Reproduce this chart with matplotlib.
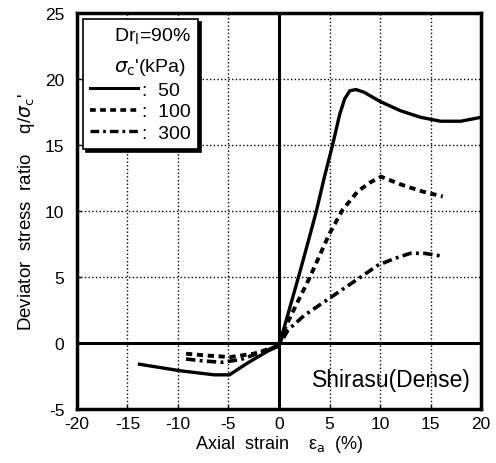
import numpy as np
import matplotlib
matplotlib.use("Agg")
import matplotlib.pyplot as plt
from matplotlib.lines import Line2D

plt.rcParams['font.family'] = ['Liberation Sans', 'DejaVu Sans']
plt.rcParams['mathtext.fontset'] = 'dejavusans'
plt.rcParams['axes.unicode_minus'] = False

# confining pressures (kPa) and the curves
pressures = [50, 100, 300]

# 50 kPa (solid)
strain_50 = [-13.8, -9.7, -6.4, -4.9, -3.1, -1.1, 0.0, 1.0, 2.0, 3.0, 3.7, 4.5, 5.3,
             6.0, 6.5, 7.0, 7.6, 8.4, 10.0, 12.0, 14.0, 16.0, 18.0, 20.0]
ratio_50 = [-1.6, -2.1, -2.4, -2.4, -1.5, -0.6, -0.2, 2.5, 5.2, 8.0, 10.0, 12.6, 15.0,
            17.3, 18.5, 19.1, 19.2, 19.0, 18.3, 17.6, 17.1, 16.8, 16.8, 17.1]

# 100 kPa (dashed)
strain_100 = [-9.2, -7.0, -4.8, -2.5, 0.0, 0.5, 1.7, 3.0, 4.0, 5.0, 6.3, 7.8, 9.1,
              10.1, 12.1, 14.1, 16.2]
ratio_100 = [-0.8, -0.95, -1.05, -0.8, -0.2, 1.0, 2.9, 4.9, 6.6, 8.3, 10.1, 11.5, 12.2,
             12.6, 12.0, 11.5, 11.1]

# 300 kPa (dash-dot)
strain_300 = [-9.2, -7.5, -5.7, -3.8, 0.0, 0.9, 2.5, 5.0, 7.5, 9.8, 11.4, 13.0, 14.4, 16.0]
ratio_300 = [-1.2, -1.35, -1.45, -1.25, -0.2, 1.0, 2.1, 3.4, 4.7, 5.9, 6.4, 6.8, 6.8, 6.6]

x_ticks = [-20, -15, -10, -5, 0, 5, 10, 15, 20]
y_ticks = [-5, 0, 5, 10, 15, 20, 25]

fig = plt.figure(figsize=(4.96, 4.64), dpi=100)
ax = fig.add_axes([0.155, 0.116, 0.815, 0.854])

ax.grid(True, linestyle=':', color='black', linewidth=1.0)
ax.axhline(0, color='black', linewidth=2.2, zorder=2)
ax.axvline(0, color='black', linewidth=2.2, zorder=2)

ax.plot(strain_50, ratio_50, color='black', linewidth=2.4, zorder=3)
ax.plot(strain_100, ratio_100, color='black', linewidth=2.8, dashes=(1.6, 1.2), zorder=3)
ax.plot(strain_300, ratio_300, color='black', linewidth=2.6,
        dashes=(2.6, 1.2, 0.8, 1.2), zorder=3)

ax.set_xlim(-20, 20)
ax.set_ylim(-5, 25)
ax.set_xticks(x_ticks)
ax.set_yticks(y_ticks)
ax.tick_params(direction='in', length=3, width=1, labelsize=12.5)
ax.tick_params(axis='y', pad=9)
ax.tick_params(axis='x', pad=5)
for s in ax.spines.values():
    s.set_linewidth(2.5)

ax.set_xlabel("Axial  strain    ε$_\\mathrm{a}$  (%)", fontsize=13, labelpad=1)
ax.set_ylabel(r"Deviator  stress  ratio    q/$\sigma_\mathrm{c}$'", fontsize=13.5, labelpad=6)

ax.text(0.975, 0.045, "Shirasu(Dense)", transform=ax.transAxes, fontsize=16.5,
        ha='right', va='bottom')

handles = [Line2D([], [], color='black', linewidth=2.2),
           Line2D([], [], color='black', linewidth=2.6, dashes=(1.6, 1.2)),
           Line2D([], [], color='black', linewidth=2.4, dashes=(2.6, 1.2, 0.8, 1.2))]
labels = [":  %d" % p for p in pressures]
leg = ax.legend(handles, labels,
                title="Dr$_\\mathrm{l}$=90%\n$\\sigma_\\mathrm{c}$'(kPa)",
                loc='upper left', bbox_to_anchor=(0.015, 0.985),
                fontsize=14, title_fontsize=14, alignment='right',
                handlelength=2.5, handletextpad=0.2, labelspacing=0.2,
                borderpad=0.35, borderaxespad=0.0,
                frameon=True, fancybox=False, edgecolor='black',
                shadow={'color': 'black', 'alpha': 1.0})
leg.get_frame().set_linewidth(1.2)
leg.get_title().set_linespacing(1.7)
leg.set_zorder(5)

fig.savefig("out.png", dpi=100)
